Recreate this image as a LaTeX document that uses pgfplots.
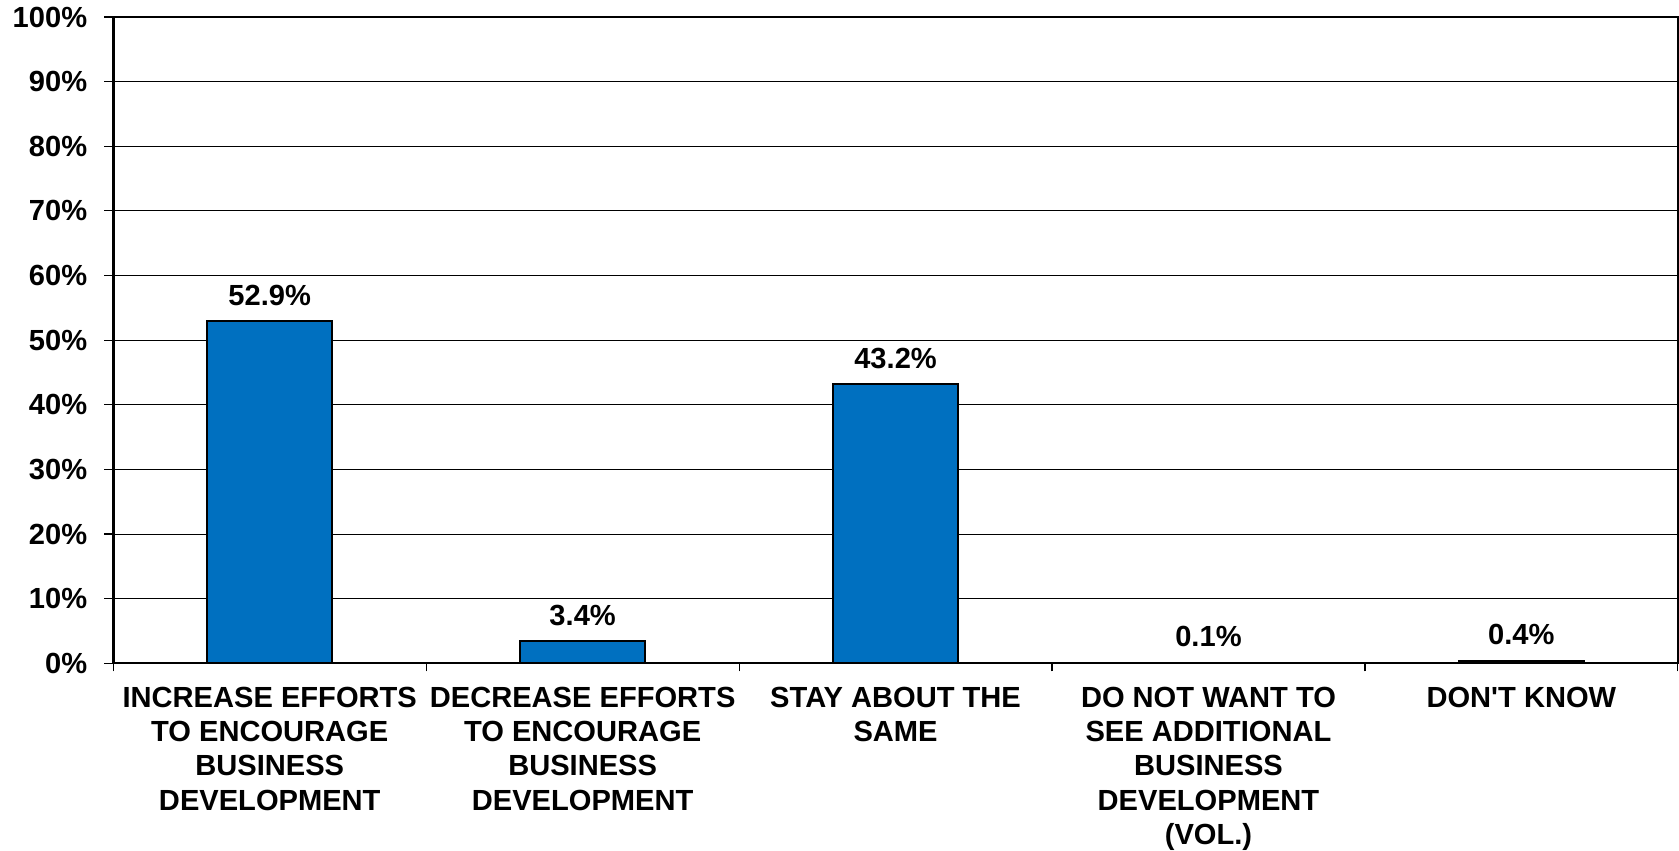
\documentclass[border=0pt]{standalone}
\usepackage{pgfplots}
\pgfplotsset{compat=1.18}
\usepackage{fontspec}
\setmainfont{Liberation Sans}
\definecolor{barblue}{HTML}{0070C0}
\begin{document}
\begin{tikzpicture}[font=\fontsize{14.5}{17}\selectfont\bfseries]
\begin{axis}[
  scale only axis,
  width=779.5pt, height=322pt,
  xmin=-0.5, xmax=4.5,
  ymin=0, ymax=100,
  ytick={0,10,...,100},
  yticklabel={\pgfmathprintnumber{\tick}\%},
  /pgf/number format/assume math mode=true,
  ymajorgrids,
  major grid style={black, line width=0.5pt},
  axis line style={black, line width=1.2pt},
  xtick={0,1,2,3,4},
  xticklabels={{INCREASE EFFORTS\\TO ENCOURAGE\\BUSINESS\\DEVELOPMENT},
               {DECREASE EFFORTS\\TO ENCOURAGE\\BUSINESS\\DEVELOPMENT},
               {STAY ABOUT THE\\SAME},
               {DO NOT WANT TO\\SEE ADDITIONAL\\BUSINESS\\DEVELOPMENT\\(VOL.)},
               {DON\textquotesingle T KNOW}},
  xticklabel style={align=center, text depth=0pt, yshift=-4pt},
  major x tick style={draw=none},
  minor xtick={-0.5,0.5,1.5,2.5,3.5,4.5},
  minor x tick style={black, line width=0.6pt},
  minor tick length=4pt,
  tick align=outside,
  tick pos=left,
  major tick length=4.5pt,
  y tick style={black, line width=0.6pt},
  yticklabel style={xshift=-5pt},
  clip=false,
]
\addplot[ybar, bar width=0.4, fill=barblue, draw=black, line width=1pt,
  nodes near coords={\pgfmathprintnumber[fixed,precision=1,fixed zerofill]{\pgfplotspointmeta}\%},
  nodes near coords style={font=\fontsize{14.5}{17}\selectfont\bfseries, yshift=4pt},
  point meta=explicit symbolic]
  coordinates {(0,52.9) [52.9] (1,3.4) [3.4] (2,43.2) [43.2] (3,0.1) [0.1] (4,0.4) [0.4]};
\end{axis}
\path ([xshift=-3pt]current bounding box.west);
\end{tikzpicture}
\end{document}
